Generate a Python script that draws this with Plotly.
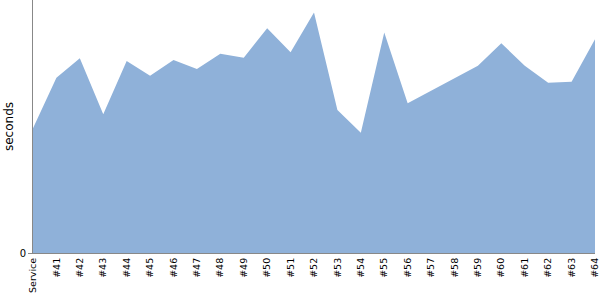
import plotly.graph_objects as go

categories = ["Service"] + [f"#{n}" for n in range(41, 65)]
seconds = [49.3, 69.3, 77.0, 54.8, 75.9, 70.1, 76.3, 72.7, 78.8, 77.2, 88.8, 79.3,
           95.1, 56.5, 47.5, 87.2, 59.2, 64.2, 69.2, 74.0, 82.9, 74.0, 67.3, 67.7, 84.5]
y_ticks = [0]
y_max = 100

fig = go.Figure()
fig.add_trace(go.Scatter(
    x=categories, y=seconds, mode="lines", fill="tozeroy",
    line=dict(width=0, color="rgb(143,177,217)"),
    fillcolor="rgb(143,177,217)", hoverinfo="skip", showlegend=False,
))

fig.update_layout(
    width=600, height=300,
    margin=dict(l=33, r=5, t=0, b=47),
    paper_bgcolor="white", plot_bgcolor="white",
    font=dict(family="DejaVu Sans", size=9, color="black"),
)
fig.update_xaxes(
    type="category", range=[0, len(categories) - 1],
    showgrid=False, zeroline=False,
    showline=True, linecolor="#888888", linewidth=1,
    ticks="", tickangle=-90, tickfont=dict(size=9.5),
)
fig.update_yaxes(
    range=[0, y_max], tickvals=y_ticks, ticktext=["0"],
    showgrid=False, zeroline=False,
    showline=True, linecolor="#888888", linewidth=1,
    ticks="outside", ticklen=4, tickcolor="#888888",
    tickfont=dict(size=10),
    title=dict(text="seconds", font=dict(size=12), standoff=3),
)

fig.write_html("out.html")
